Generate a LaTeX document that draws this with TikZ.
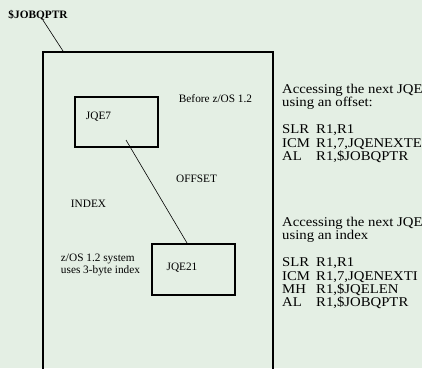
\documentclass[tikz,border=0pt]{standalone}
\usepackage{fontspec}
\setmainfont{Liberation Serif}
\newfontfamily\codefont[FakeStretch=1.1]{Liberation Serif}
\usetikzlibrary{calc}
\definecolor{bgpale}{RGB}{228,239,228}
\newcommand{\opline}[2]{\makebox[34pt][l]{#1}#2}
\tikzset{
  lbl/.style={inner sep=0pt, font=\fontsize{11.3}{12}\selectfont},
  codeblk/.style={inner sep=0pt, anchor=north west, align=left,
    font=\codefont\fontsize{13.4}{13.4}\selectfont},
  qbox/.style={draw, line width=2pt, inner sep=0pt, anchor=north west}
}
\begin{document}
\begin{tikzpicture}[x=1pt,y=-1pt]
\fill[bgpale] (0,0) rectangle (422,368);
\clip (0,0) rectangle (422,368);
% the queue area and the two elements
\node[qbox, minimum width=230pt, minimum height=340pt] (jobq) at (42,51) {};
\node[qbox, minimum width=83pt, minimum height=50pt] (jqe7) at (74,96) {};
\node[qbox, minimum width=83pt, minimum height=51pt] (jqe21) at (151,243) {};
% labels
\node[lbl, font=\fontsize{11.3}{12}\selectfont\bfseries] (ptr) at (38,15) {\$JOBQPTR};
\node[lbl] (jqe7lbl) at (98.5,117) {JQE7};
\node[lbl] (jqe21lbl) at (182,268) {JQE21};
\node[lbl] (before) at (215.5,99) {Before z/OS 1.2};
\node[lbl] (offset) at (196.5,179) {OFFSET};
\node[lbl] (index) at (88.5,204) {INDEX};
\node[lbl, align=left] (sysnote) at (100.5,265) {z/OS 1.2 system\\uses 3-byte index};
% pointers
\draw[line width=0.6pt] ($(ptr.south)+(5,0)$) -- ($(jobq.north west)+(21,0)$);
\draw[line width=0.6pt] ($(jqe7.center)+(9.5,18)$) -- ($(jqe21.north)+(-6.5,0)$);
% code on the right
\node[codeblk] (bykey) at (282,84) {Accessing the next JQE\\using an offset:\\[13.4pt]
  \opline{SLR}{R1,R1}\\\opline{ICM}{R1,7,JQENEXTE}\\\opline{AL}{R1,\$JOBQPTR}};
\node[codeblk] (byidx) at (282,217) {Accessing the next JQE\\using an index\\[13.4pt]
  \opline{SLR}{R1,R1}\\\opline{ICM}{R1,7,JQENEXTI}\\\opline{MH}{R1,\$JQELEN}\\\opline{AL}{R1,\$JOBQPTR}};
\end{tikzpicture}
\end{document}
